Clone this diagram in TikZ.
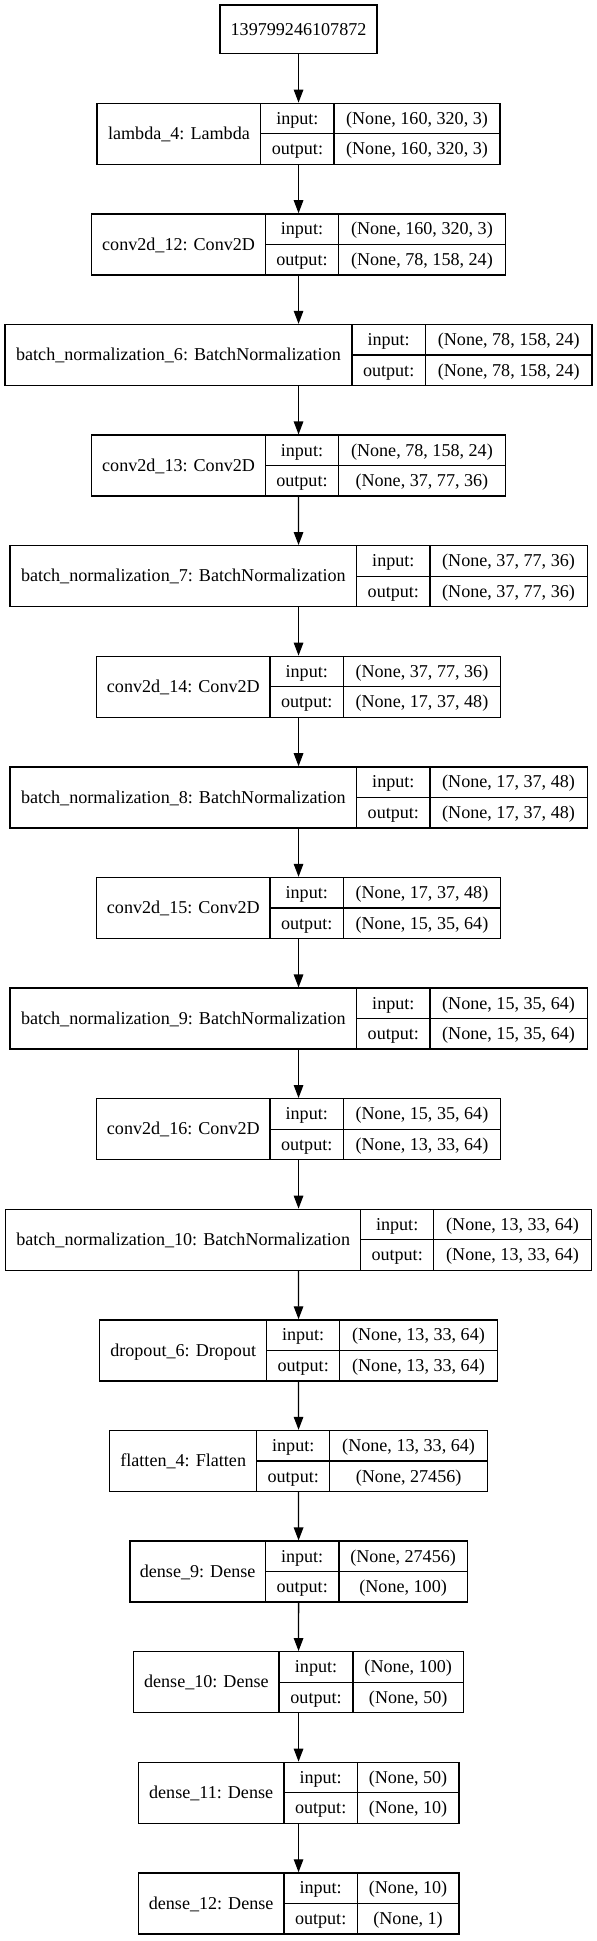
\documentclass[tikz,border=0pt]{standalone}
\usepackage{fontspec}
\setmainfont{Liberation Serif}
\usetikzlibrary{arrows.meta}

\begin{document}
\begin{tikzpicture}[>={Triangle[length=13pt,width=9.5pt]}, x=1pt, y=-1pt, line width=1.33pt,
	font=\fontsize{18.1}{21}\selectfont]
	\useasboundingbox (0,0) rectangle (597,1941);
	\node[draw, inner sep=0pt, minimum width=157pt, minimum height=48.3pt] (top) at (298.55,29.15) {139799246107872};
	
	\foreach \k/\xa/\xb/\xc/\xd/\lname/\shin/\shout in {
		0/97.1/260.8/334/500/{lambda\_4: Lambda}/{(None, 160, 320, 3)}/{(None, 160, 320, 3)},
		1/91.8/265.4/338.5/505.3/{conv2d\_12: Conv2D}/{(None, 160, 320, 3)}/{(None, 78, 158, 24)},
		2/5/351.9/425.4/592.1/{batch\_normalization\_6: BatchNormalization}/{(None, 78, 158, 24)}/{(None, 78, 158, 24)},
		3/91.8/265.4/338.5/505.3/{conv2d\_13: Conv2D}/{(None, 78, 158, 24)}/{(None, 37, 77, 36)},
		4/9.9/356.8/429.9/587.2/{batch\_normalization\_7: BatchNormalization}/{(None, 37, 77, 36)}/{(None, 37, 77, 36)},
		5/96.7/270/343.5/500.4/{conv2d\_14: Conv2D}/{(None, 37, 77, 36)}/{(None, 17, 37, 48)},
		6/9.9/356.8/429.9/587.2/{batch\_normalization\_8: BatchNormalization}/{(None, 17, 37, 48)}/{(None, 17, 37, 48)},
		7/96.7/270/343.5/500.4/{conv2d\_15: Conv2D}/{(None, 17, 37, 48)}/{(None, 15, 35, 64)},
		8/9.9/356.8/429.9/587.2/{batch\_normalization\_9: BatchNormalization}/{(None, 15, 35, 64)}/{(None, 15, 35, 64)},
		9/96.7/270/343.5/500.4/{conv2d\_16: Conv2D}/{(None, 15, 35, 64)}/{(None, 13, 33, 64)},
		10/5.7/360.6/433.7/591.4/{batch\_normalization\_10: BatchNormalization}/{(None, 13, 33, 64)}/{(None, 13, 33, 64)},
		11/99.8/266.6/339.7/497.3/{dropout\_6: Dropout}/{(None, 13, 33, 64)}/{(None, 13, 33, 64)},
		12/109.7/256.7/329.8/487.4/{flatten\_4: Flatten}/{(None, 13, 33, 64)}/{(None, 27456)},
		13/129.9/265.4/338.9/467.3/{dense\_9: Dense}/{(None, 27456)}/{(None, 100)},
		14/133.7/279.1/353/463.4/{dense\_10: Dense}/{(None, 100)}/{(None, 50)},
		15/138.2/284.1/357.2/458.9/{dense\_11: Dense}/{(None, 50)}/{(None, 10)},
		16/138.2/284.1/357.2/458.9/{dense\_12: Dense}/{(None, 10)}/{(None, 1)}}
	{
		\pgfmathsetmacro{\yt}{103.3+110.6*\k}
		\pgfmathsetmacro{\w}{\xd-\xa}
		\pgfmathsetmacro{\xm}{(\xa+\xd)/2}
		\node[draw, inner sep=0pt, minimum width=\w pt, minimum height=61pt] (l\k) at (\xm,\yt+30.5) {};
		\draw (\xb,\yt)--(\xb,\yt+61) (\xc,\yt)--(\xc,\yt+61) (\xb,\yt+30.5)--(\xd,\yt+30.5);
		\node[anchor=base] at ({(\xa+\xb)/2},\yt+36.2) {\lname};
		\node[anchor=base] at ({(\xb+\xc)/2},\yt+21) {input:};
		\node[anchor=base] at ({(\xb+\xc)/2},\yt+51.5) {output:};
		\node[anchor=base] at ({(\xc+\xd)/2},\yt+21) {\shin};
		\node[anchor=base] at ({(\xc+\xd)/2},\yt+51.5) {\shout};
	}
	
	\draw[->] (top)--(l0);
	\foreach \k [count=\j from 1] in {0,...,15}
	{
		\draw[->] (l\k)--(l\j);
	}
\end{tikzpicture}
\end{document}
